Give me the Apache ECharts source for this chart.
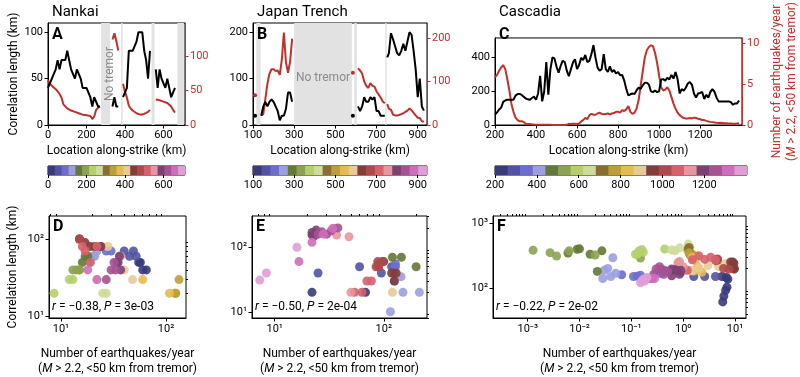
<!DOCTYPE html>
<html>
<head>
<meta charset="utf-8">
<script src="https://cdn.jsdelivr.net/npm/echarts@6/dist/echarts.min.js"></script>
<style>
  html, body { margin: 0; padding: 0; background: #fff; }
  #chart { width: 800px; height: 377px; }
</style>
</head>
<body>
<div id="chart"></div>
<script>
// ---------- data ----------
// Nankai: location along strike (km), correlation length (km), earthquakes/year
const nankaiLoc = [0,10,20,30,40,50,60,70,80,90,100,110,120,130,140,150,160,170,180,190,200,210,220,230,240,250,260,270,
  335,345,355,365,
  390,400,410,420,430,440,450,460,470,480,490,500,510,520,530,
  560,570,580,590,600,610,620,630,640,650,660];
const nankaiCorr = [40,40,50,50,60,70,60,70,70,70,80,70,60,60,50,60,60,50,40,40,40,40,30,20,30,30,20,20,
  20,30,20,20,
  30,30,40,80,80,80,80,90,100,100,100,80,70,50,80,
  60,40,60,50,50,40,50,40,30,30,40];
const nankaiRate = [65,60,57,55,52,49,45,40,30,27,24,22,21,20,19,18,17,16,15,15,14,13,13,8.6,12,22,25,27,
  124,133,122,108,
  60,48,40,28,24,21,19,17,15,15,15,16,17,19,22,
  37,37,36,35,34,33,32,30,27,22,18];
const nankaiGaps = [[276, 323], [380, 388], [538, 554], [672, 706]];

// Japan Trench
const japanLoc = [110,
  140,150,160,170,180,190,200,210,220,230,240,250,260,270,280,290,
  585,
  610,620,630,640,650,660,670,680,690,700,710,720,730,740,
  752,760,770,780,790,800,810,820,830,840,850,860,870,880,890,900,910,920,930];
const japanCorr = [20,
  20,40,50,40,50,55,50,40,30,10,20,20,35,70,70,50,
  20,
  40,30,40,60,50,50,60,55,60,30,30,20,20,20,
  146,155,198,185,170,155,150,160,175,160,180,200,195,160,120,60,100,40,31];
const japanRate = [68,
  22,25,60,95,118,128,128,124,125,115,150,212,144,120,145,198,
  120,
  130,125,118,100,90,85,96,90,88,77,70,63,54,50,
  48,37,35,24,22,22,23,25,27,30,33,38,34,28,22,16.7,16,8.4,7.3];
const japanGaps = [[116, 137], [300, 580], [592, 604], [742, 749]];

// Cascadia
const cascadiaLoc = [200,210,220,230,240,250,260,270,280,290,300,310,320,330,340,350,360,370,380,390,
  400,410,420,430,440,450,460,470,480,490,500,510,520,530,540,550,560,570,580,590,
  600,610,620,630,640,650,660,670,680,690,700,710,720,730,740,750,760,770,780,790,
  800,810,820,830,840,850,860,870,880,890,900,910,920,930,940,950,960,970,980,990,
  1000,1010,1020,1030,1040,1050,1060,1070,1080,1090,1100,1110,1120,1130,1140,1150,1160,1170,1180,1190,
  1200,1210,1220,1230,1240,1250,1260,1270,1280,1290,1300,1310,1320,1330,1340,1350,1360,1370,1380,1390];
const cascadiaCorr = [61,75,92,103,137,145,150,150,150,150,174,184,184,178,168,157,152,150,160,168,
  150,187,292,140,200,373,180,330,400,395,345,310,350,381,373,322,289,330,370,390,
  331,356,398,385,415,373,380,420,474,398,340,322,331,420,331,314,348,314,326,305,
  314,295,297,263,213,175,182,187,184,205,221,215,235,250,250,240,200,195,205,195,
  200,270,272,263,280,270,297,275,314,272,187,213,204,221,246,255,238,187,162,187,
  190,196,154,179,162,196,213,196,162,140,140,140,140,140,140,135,120,128,128,145];
const cascadiaRate = [5.8,6.1,6.6,7.0,7.3,6.8,5.6,4.2,2.6,1.6,0.9,0.6,0.45,0.47,0.36,0.15,0.13,0.11,0.065,0.05,
  0.04,0.03,0.044,0.028,0.035,0.027,0.022,0.016,0.01,0.009,0.006,0.0036,0.0027,0.00127,0.0063,0.02,0.15,0.12,0.14,0.16,
  0.13,0.17,0.44,0.6,0.86,0.7,1.2,1.35,1.25,1.25,1.4,1.5,1.35,1.3,1.35,1.4,1.3,1.4,1.45,1.6,
  1.6,1.5,1.8,1.7,1.9,2.3,1.6,1.35,1.5,2.0,3.0,4.8,6.5,8.2,9.1,9.5,9.7,9.6,8.8,7.6,
  6.0,4.6,4.2,4.3,4.6,4.2,3.4,2.6,2.0,1.5,1.2,1.0,0.85,0.8,0.8,0.85,0.8,0.9,0.85,0.75,
  0.7,0.6,0.6,0.5,0.42,0.38,0.35,0.3,0.27,0.25,0.28,0.25,0.22,0.2,0.18,0.17,0.15,0.16,0.18,0.2];

// tick labels
const nankaiTicks = [0, 200, 400, 600];
const japanTicks = [100, 300, 500, 700, 900];
const cascadiaTicks = [200, 400, 600, 800, 1000, 1200];

const stats = [
  ['−0.38', '3e-03'],
  ['−0.50', '2e-04'],
  ['−0.22', '2e-02']
];

// tab20b colour map (location along strike)
const TAB20B = ['#393b79','#5254a3','#6b6ecf','#9c9ede','#637939','#8ca252','#b5cf6b','#cedb9c',
  '#8c6d31','#bd9e39','#e7ba52','#e7cb94','#843c39','#ad494a','#d6616b','#e7969c',
  '#7b4173','#a55194','#ce6dbd','#de9ed6'];

// ---------- helpers ----------
const FONT = "Roboto, 'DejaVu Sans', sans-serif";
const RED = '#c0312b';
const GRAY_BAND = '#e2e2e2';
const SUP = {'0':'⁰','1':'¹','2':'²','3':'³','4':'⁴','5':'⁵','6':'⁶','7':'⁷','8':'⁸','9':'⁹','-':'⁻'};

function powLabel(v) {
  const e = Math.round(Math.log10(v));
  return '10' + String(e).split('').map(c => SUP[c]).join('');
}
const plain = v => String(v);  // no thousands separator
function majorLog(lo, hi) {
  const out = [];
  for (let e = Math.ceil(Math.log10(lo) - 1e-9); e <= Math.floor(Math.log10(hi) + 1e-9); e++) out.push(Math.pow(10, e));
  return out;
}
function minorLog(lo, hi) {
  const out = [];
  for (let e = Math.floor(Math.log10(lo)); e <= Math.ceil(Math.log10(hi)); e++) {
    for (let k = 2; k <= 9; k++) {
      const v = +(k * Math.pow(10, e)).toPrecision(6);
      if (v >= lo && v <= hi) out.push(v);
    }
  }
  return out;
}
// break the line where the along-strike sampling jumps
function lineData(loc, vals) {
  const out = [];
  for (let i = 0; i < loc.length; i++) {
    if (i > 0 && loc[i] - loc[i - 1] > 10) out.push([(loc[i] + loc[i - 1]) / 2, null]);
    out.push([loc[i], vals[i]]);
  }
  return out;
}
function isolated(data, i) {
  const prev = data[i - 1], next = data[i + 1];
  return (!prev || prev[1] == null) && (!next || next[1] == null);
}
function scatterData(loc, corr, rate) {
  return loc.map((l, i) => [rate[i], corr[i], l]).filter(d => d[0] != null && d[1] != null);
}
function colorOf(min, max) {
  return p => TAB20B[Math.max(0, Math.min(19, Math.floor((p.data[2] - min) / (max - min) * 20)))];
}

// ---------- layout ----------
const panels = [
  { name: 'Nankai', letter: 'A', loc: nankaiLoc, corr: nankaiCorr, rate: nankaiRate, gaps: nankaiGaps,
    xMin: 0, xMax: 712, ticks: nankaiTicks, left: 48, width: 137,
    yL: [0, 110, [0, 50, 100]], yR: [0, 148, [0, 50, 100]], rot: 90,
    sLeft: 49, sWidth: 137, sx: [7.7, 155], sy: [9.6, 198] },
  { name: 'Japan Trench', letter: 'B', loc: japanLoc, corr: japanCorr, rate: japanRate, gaps: japanGaps,
    xMin: 100, xMax: 945, ticks: japanTicks, left: 253, width: 174,
    yL: [0, 220, [0, 100, 200]], yR: [0, 234, [0, 100, 200]], rot: 0,
    sLeft: 252, sWidth: 175, sx: [6.2, 249], sy: [8.0, 306] },
  { name: 'Cascadia', letter: 'C', loc: cascadiaLoc, corr: cascadiaCorr, rate: cascadiaRate, gaps: [],
    xMin: 200, xMax: 1404, ticks: cascadiaTicks, left: 495, width: 252,
    yL: [0, 516, [0, 200, 400]], yR: [0, 10.6, [0, 5, 10]], rot: 0,
    sLeft: 493, sWidth: 253, sx: [0.000214, 16.3], sy: [34.5, 1282] }
];
const scatterLetters = ['D', 'E', 'F'];

const grid = [], xAxis = [], yAxis = [], series = [], title = [], graphic = [];
const tickFont = { color: '#000', fontSize: 11, fontFamily: FONT };
const nameFont = { color: '#000', fontSize: 12, fontFamily: FONT };
const black = { color: '#000', width: 1 };

function frame(left, top, width, height) {
  return { left, top, width, height, show: true, borderColor: '#000', borderWidth: 1, backgroundColor: 'transparent' };
}

panels.forEach((p, k) => {
  // ----- top: correlation length and earthquake rate along strike -----
  const g = grid.length;
  grid.push(frame(p.left, 23, p.width, 102));
  const xi = xAxis.length;
  xAxis.push({
    type: 'value', gridIndex: g, min: p.xMin, max: p.xMax,
    axisLine: { onZero: false, lineStyle: black },
    axisTick: { length: 3.5, lineStyle: black, customValues: p.ticks },
    axisLabel: Object.assign({ customValues: p.ticks, margin: 5, formatter: plain }, tickFont),
    splitLine: { show: false },
    name: 'Location along-strike (km)', nameLocation: 'middle', nameGap: 20, nameTextStyle: nameFont
  });
  const yl = yAxis.length;
  yAxis.push({
    type: 'value', gridIndex: g, min: p.yL[0], max: p.yL[1], position: 'left',
    axisLine: { show: true, onZero: false, lineStyle: black },
    axisTick: { show: true, length: 3.5, lineStyle: black, customValues: p.yL[2] },
    axisLabel: Object.assign({ customValues: p.yL[2], margin: 5, formatter: plain }, tickFont),
    splitLine: { show: false },
    name: k === 0 ? 'Correlation length (km)' : '', nameLocation: 'middle', nameRotate: 90, nameGap: 28,
    nameTextStyle: nameFont
  });
  yAxis.push({
    type: 'value', gridIndex: g, min: p.yR[0], max: p.yR[1], position: 'right',
    axisLine: { show: true, onZero: false, lineStyle: { color: RED, width: 1 } },
    axisTick: { show: true, length: 3.5, lineStyle: { color: RED }, customValues: p.yR[2] },
    axisLabel: { customValues: p.yR[2], margin: 5, formatter: plain, color: RED, fontSize: 11, fontFamily: FONT },
    splitLine: { show: false },
    name: k === 2 ? '{a|Number of earthquakes/year}\n{a|(}{i|M}{a| > 2.2, <50 km from tremor)}' : '',
    nameLocation: 'middle', nameRotate: 90, nameGap: 27,
    nameTextStyle: { color: RED, fontSize: 12, fontFamily: FONT, lineHeight: 15,
      rich: { a: { color: RED, fontSize: 12, fontFamily: FONT, lineHeight: 15 },
              i: { color: RED, fontSize: 12, fontFamily: FONT, fontStyle: 'italic', lineHeight: 15 } } }
  });

  const blackData = lineData(p.loc, p.corr);
  const redData = lineData(p.loc, p.rate);
  series.push({
    type: 'line', xAxisIndex: xi, yAxisIndex: yl, data: blackData, silent: true, animation: false,
    connectNulls: false, showSymbol: true, showAllSymbol: true, symbol: 'circle',
    symbolSize: (v, prm) => isolated(blackData, prm.dataIndex) ? 4 : 0,
    lineStyle: { color: '#000', width: 2 }, itemStyle: { color: '#000' }, z: 4,
    markArea: {
      silent: true, itemStyle: { color: GRAY_BAND },
      data: p.gaps.map((gp, j) => [
        { xAxis: gp[0], name: (gp[1] - gp[0] > 40) ? 'No tremor' : '',
          label: { show: true, position: 'inside', rotate: p.rot, color: '#8a8a8a', fontSize: 12, fontFamily: FONT,
                   offset: [0, 4] } },
        { xAxis: gp[1] }
      ])
    }
  });
  series.push({
    type: 'line', xAxisIndex: xi, yAxisIndex: yl + 1, data: redData, silent: true, animation: false,
    connectNulls: false, showSymbol: true, showAllSymbol: true, symbol: 'circle',
    symbolSize: (v, prm) => isolated(redData, prm.dataIndex) ? 4 : 0,
    lineStyle: { color: RED, width: 2 }, itemStyle: { color: RED }, z: 3
  });

  // ----- colour bar -----
  const cg = grid.length;
  grid.push(frame(p.left, 166, p.width, 9));
  const cx = xAxis.length;
  xAxis.push({
    type: 'value', gridIndex: cg, min: p.xMin, max: p.xMax,
    axisLine: { show: false },
    axisTick: { length: 3, lineStyle: black, customValues: p.ticks },
    axisLabel: Object.assign({ customValues: p.ticks, margin: 5, formatter: plain }, tickFont),
    splitLine: { show: false }
  });
  const cy = yAxis.length;
  yAxis.push({ type: 'value', gridIndex: cg, min: 0, max: 1, show: false });
  const step = (p.xMax - p.xMin) / TAB20B.length;
  series.push({
    type: 'custom', xAxisIndex: cx, yAxisIndex: cy, silent: true, animation: false, z: 1,
    data: TAB20B.map((c, i) => [i]),
    renderItem: (params, api) => {
      const i = api.value(0);
      const a = api.coord([p.xMin + i * step, 0]);
      const b = api.coord([p.xMin + (i + 1) * step, 1]);
      return { type: 'rect', shape: { x: a[0], y: b[1], width: b[0] - a[0] + 0.6, height: a[1] - b[1] },
               style: { fill: TAB20B[i] } };
    }
  });

  // ----- scatter: correlation length vs earthquake rate -----
  const sg = grid.length;
  grid.push(frame(p.sLeft, 216, p.sWidth, 102));
  const sxi = xAxis.length;
  const xMaj = majorLog(p.sx[0], p.sx[1]);
  const yMaj = majorLog(p.sy[0], p.sy[1]);
  xAxis.push({
    type: 'log', gridIndex: sg, min: p.sx[0], max: p.sx[1],
    axisLine: { onZero: false, lineStyle: black },
    axisTick: { length: 3.5, lineStyle: black, customValues: xMaj },
    axisLabel: Object.assign({ customValues: xMaj, formatter: powLabel, margin: 6 }, tickFont),
    splitLine: { show: false }, minorTick: { show: false },
    name: '{a|Number of earthquakes/year}\n{a|(}{i|M}{a| > 2.2, <50 km from tremor)}',
    nameLocation: 'middle', nameGap: 28,
    nameTextStyle: { color: '#000', fontSize: 12, fontFamily: FONT, lineHeight: 15,
      rich: { a: { fontSize: 12, fontFamily: FONT, lineHeight: 15 },
              i: { fontSize: 12, fontFamily: FONT, fontStyle: 'italic', lineHeight: 15 } } }
  });
  xAxis.push({
    type: 'log', gridIndex: sg, min: p.sx[0], max: p.sx[1],
    axisLine: { show: false }, axisLabel: { show: false }, splitLine: { show: false },
    axisTick: { length: 2, lineStyle: black, customValues: minorLog(p.sx[0], p.sx[1]) }
  });
  const syi = yAxis.length;
  yAxis.push({
    type: 'log', gridIndex: sg, min: p.sy[0], max: p.sy[1],
    axisLine: { show: true, onZero: false, lineStyle: black },
    axisTick: { show: true, length: 3.5, lineStyle: black, customValues: yMaj },
    axisLabel: Object.assign({ customValues: yMaj, formatter: powLabel, margin: 5 }, tickFont),
    splitLine: { show: false },
    name: k === 0 ? 'Correlation length (km)' : '', nameLocation: 'middle', nameRotate: 90, nameGap: 30,
    nameTextStyle: nameFont
  });
  yAxis.push({
    type: 'log', gridIndex: sg, min: p.sy[0], max: p.sy[1],
    axisLine: { show: false }, axisLabel: { show: false }, splitLine: { show: false },
    axisTick: { show: true, length: 2, lineStyle: black, customValues: minorLog(p.sy[0], p.sy[1]) }
  });
  series.push({
    type: 'scatter', xAxisIndex: sxi, yAxisIndex: syi, silent: true, animation: false,
    data: scatterData(p.loc, p.corr, p.rate), symbolSize: 9,
    itemStyle: { color: colorOf(p.xMin, p.xMax), opacity: 0.9 }
  });

  // ----- titles, panel letters, statistics -----
  title.push({ text: p.name, left: p.left - 1, top: 0,
    textStyle: { fontSize: 15, fontWeight: 'normal', color: '#000', fontFamily: FONT } });
  graphic.push({ type: 'text', left: p.left + 4, top: 27, z: 100,
    style: { text: p.letter, fontSize: 16, fontWeight: 'bold', fill: '#000', fontFamily: FONT } });
  graphic.push({ type: 'text', left: p.sLeft + 4, top: 219, z: 100,
    style: { text: scatterLetters[k], fontSize: 16, fontWeight: 'bold', fill: '#000', fontFamily: FONT } });
  graphic.push({ type: 'text', left: p.sLeft + 3, top: 301, z: 100,
    style: { text: '{i|r} = ' + stats[k][0] + ', {i|P} = ' + stats[k][1], fontSize: 12, fill: '#000', fontFamily: FONT,
      rich: { i: { fontStyle: 'italic', fontSize: 12, fontFamily: FONT, fill: '#000' } } } });
});

const chart = echarts.init(document.getElementById('chart'), null, { renderer: 'canvas' });
chart.setOption({
  backgroundColor: '#fff',
  animation: false,
  title, grid, xAxis, yAxis, series, graphic
});
</script>
</body>
</html>
